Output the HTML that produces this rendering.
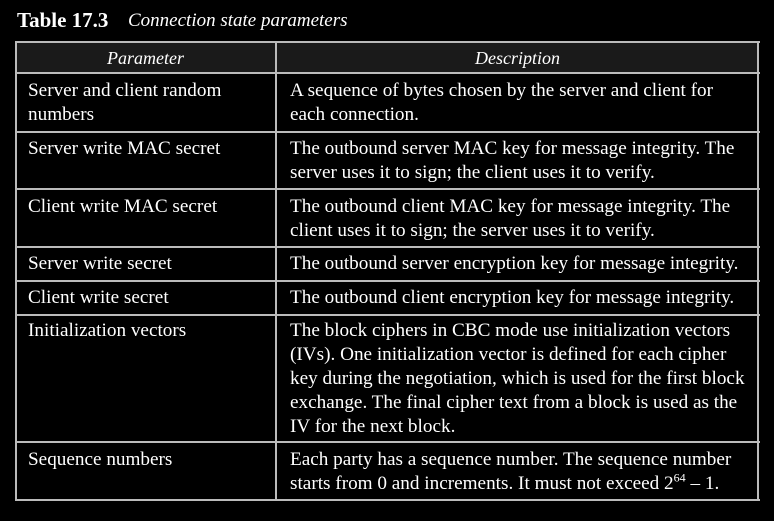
<!DOCTYPE html>
<html><head><meta charset="utf-8"><style>
body{margin:0;width:774px;height:521px;background:#000;overflow:hidden;font-family:"Liberation Serif",serif;color:#fff;position:relative}
.t{position:absolute;font-size:19.2px;line-height:24px;white-space:nowrap}
.h{position:absolute;left:0;width:100%;height:2px;background:#bbb}
.v{position:absolute;top:42px;width:2px;height:458px;background:#bbb}
</style></head><body>
<div class="t" style="left:17px;top:8px;font-size:21px;font-weight:bold">Table 17.3</div>
<div class="t" style="left:128px;top:9px;font-size:19px;font-style:italic">Connection state parameters</div>
<div style="position:absolute;left:15px;top:42px;width:743px;height:31px;background:#1a1a1a"></div>
<div class="h" style="left:15px;width:745px;top:41px"></div>
<div class="h" style="left:15px;width:745px;top:72px"></div>
<div class="h" style="left:15px;width:745px;top:131px"></div>
<div class="h" style="left:15px;width:745px;top:188px"></div>
<div class="h" style="left:15px;width:745px;top:246px"></div>
<div class="h" style="left:15px;width:745px;top:280px"></div>
<div class="h" style="left:15px;width:745px;top:314px"></div>
<div class="h" style="left:15px;width:745px;top:441px"></div>
<div class="h" style="left:15px;width:745px;top:499px"></div>
<div class="v" style="left:15px"></div>
<div class="v" style="left:275px"></div>
<div class="v" style="left:757px"></div>
<div class="t" style="left:15px;width:261px;text-align:center;top:46px;font-style:italic;font-size:18px">Parameter</div>
<div class="t" style="left:277px;width:481px;text-align:center;top:46px;font-style:italic;font-size:18px">Description</div>

<div class="t" style="left:28px;top:79px">Server and client random<br>numbers</div>
<div class="t" style="left:290px;top:79px">A sequence of bytes chosen by the server and client for<br>each connection.</div>

<div class="t" style="left:28px;top:137px">Server write MAC secret</div>
<div class="t" style="left:290px;top:137px">The outbound server MAC key for message integrity. The<br>server uses it to sign; the client uses it to verify.</div>

<div class="t" style="left:28px;top:195px">Client write MAC secret</div>
<div class="t" style="left:290px;top:195px">The outbound client MAC key for message integrity. The<br>client uses it to sign; the server uses it to verify.</div>

<div class="t" style="left:28px;top:252px">Server write secret</div>
<div class="t" style="left:290px;top:252px">The outbound server encryption key for message integrity.</div>

<div class="t" style="left:28px;top:286px">Client write secret</div>
<div class="t" style="left:290px;top:286px">The outbound client encryption key for message integrity.</div>

<div class="t" style="left:28px;top:319px">Initialization vectors</div>
<div class="t" style="left:290px;top:319px">The block ciphers in CBC mode use initialization vectors<br>(IVs). One initialization vector is defined for each cipher<br>key during the negotiation, which is used for the first block<br>exchange. The final cipher text from a block is used as the<br>IV for the next block.</div>

<div class="t" style="left:28px;top:448px">Sequence numbers</div>
<div class="t" style="left:290px;top:448px">Each party has a sequence number. The sequence number<br>starts from 0 and increments. It must not exceed 2<sup style="font-size:12px;line-height:0">64</sup> – 1.</div>
</body></html>
